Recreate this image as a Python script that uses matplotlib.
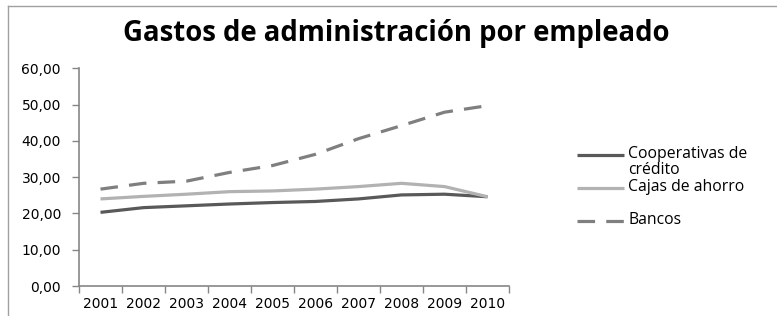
import matplotlib
matplotlib.use("Agg")
import matplotlib.pyplot as plt
from matplotlib.lines import Line2D
from matplotlib.ticker import FuncFormatter

# Data
YEARS = ["2001", "2002", "2003", "2004", "2005", "2006", "2007", "2008", "2009", "2010"]
COOPERATIVAS = [20.3, 21.6, 22.1, 22.6, 23.0, 23.3, 24.0, 25.1, 25.3, 24.6]
CAJAS = [24.0, 24.7, 25.3, 26.0, 26.2, 26.7, 27.4, 28.3, 27.4, 24.6]
BANCOS = [26.7, 28.3, 28.9, 31.3, 33.2, 36.3, 40.6, 44.2, 47.9, 49.7]
SERIES_LABELS = ["Cooperativas de\ncrédito", "Cajas de ahorro", "Bancos"]

COLORS = ["#595959", "#b2b2b2", "#7f7f7f"]
STYLES = ["-", "-", (0, (5.5, 3.5))]
AXIS_GRAY = "#868686"

W, H = 777, 316
fig = plt.figure(figsize=(W / 100, H / 100), dpi=100)

# chart frame (left + top border)
fig.add_artist(Line2D([8 / W, 8 / W], [0, 1 - 6 / H], transform=fig.transFigure, color="#a0a0a0", lw=1))
fig.add_artist(Line2D([8 / W, 1], [1 - 6 / H, 1 - 6 / H], transform=fig.transFigure, color="#a0a0a0", lw=1))

ax = fig.add_axes([79 / W, 1 - 286 / H, (509 - 79) / W, (286 - 68.3) / H])
x = list(range(1, len(YEARS) + 1))
for vals, c, ls in zip([COOPERATIVAS, CAJAS, BANCOS], COLORS, STYLES):
    ax.plot(x, vals, color=c, lw=2.3, linestyle=ls, solid_capstyle="butt", dash_capstyle="butt")

ax.set_xlim(0.5, len(YEARS) + 0.5)
ax.set_ylim(0, 60)
ax.set_yticks(range(0, 61, 10))
ax.yaxis.set_major_formatter(FuncFormatter(lambda v, p: f"{v:.2f}".replace(".", ",")))
ax.set_xticks(x)
ax.set_xticklabels(YEARS)
ax.set_xticks([i + 0.5 for i in range(0, len(YEARS) + 1)], minor=True)
ax.tick_params(axis="x", which="major", length=0, pad=8, labelsize=10, colors="black")
ax.tick_params(axis="x", which="minor", length=5, width=1, color=AXIS_GRAY)
ax.tick_params(axis="y", length=5, width=1, color=AXIS_GRAY, labelsize=10, pad=8)
for s in ["top", "right"]:
    ax.spines[s].set_visible(False)
for s in ["left", "bottom"]:
    ax.spines[s].set_color(AXIS_GRAY)
    ax.spines[s].set_linewidth(1.2)

fig.text(396 / W, 1 - 33 / H, "Gastos de administración por empleado", ha="center", va="center",
         fontsize=19.8, fontweight="bold", family="Open Sans")

# legend drawn by hand so the key lines sit on the first text line
legend_y = [155, 188, 221]
for lab, c, ls, yy in zip(SERIES_LABELS, COLORS, STYLES, legend_y):
    fy = 1 - yy / H
    fig.add_artist(Line2D([577 / W, 624 / W], [fy, fy], transform=fig.transFigure,
                          color=c, lw=2.3, linestyle=ls, solid_capstyle="butt"))
    fig.text(628 / W, fy + 9 / H, lab, ha="left", va="top", fontsize=11.3,
             family="Open Sans", linespacing=1.0)

fig.savefig("out.png", dpi=100)
